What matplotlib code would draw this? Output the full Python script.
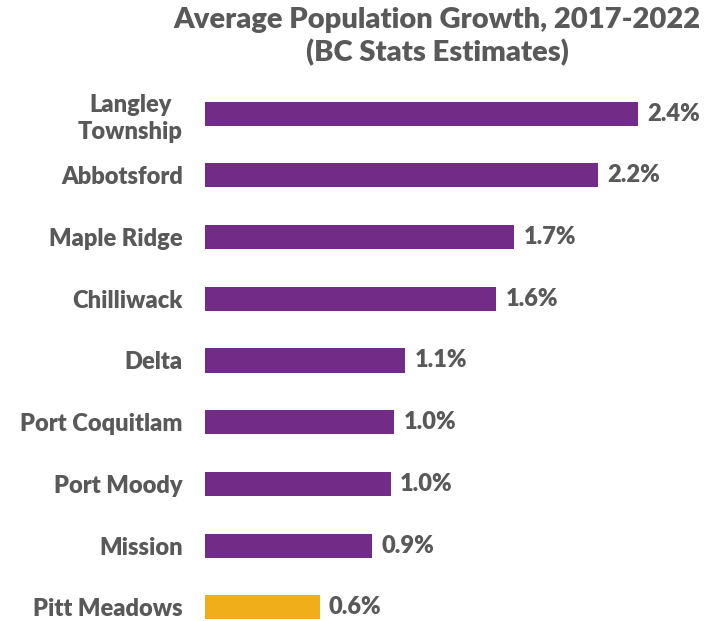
import numpy as np
import matplotlib
matplotlib.use("Agg")
from matplotlib import pyplot as plt

# average annual growth, 2017-2022 (percent)
cities = ["Langley\nTownship", "Abbotsford", "Maple Ridge", "Chilliwack", "Delta",
          "Port Coquitlam", "Port Moody", "Mission", "Pitt Meadows"]
growth = [2.38, 2.16, 1.70, 1.60, 1.10, 1.04, 1.02, 0.92, 0.63]
highlight = "Pitt Meadows"

PURPLE = "#722C88"
GOLD = "#F1AE1B"
GREY = "#595959"
WEIGHT = 'heavy'

plt.rcParams['font.family'] = ['Lato', 'DejaVu Sans']

fig = plt.figure(figsize=(7.13, 6.21), dpi=100)
ax = fig.add_axes([205 / 713, 0.0, 495 / 713, 1 - 82.7 / 621])

y = np.arange(len(cities))
colors = [GOLD if c == highlight else PURPLE for c in cities]
bars = ax.barh(y, growth, height=0.39, color=colors)

for b, v in zip(bars, growth):
    ax.text(b.get_width() + 0.05, b.get_y() + b.get_height() / 2, f"{v:.1f}%",
            va='center', ha='left', fontsize=17, color=GREY, fontweight=WEIGHT)

ax.set_yticks(y)
ax.set_yticklabels(cities, fontsize=17, color=GREY, fontweight=WEIGHT,
                   multialignment='center', linespacing=1.3)
ax.tick_params(axis='y', length=0, pad=16)
ax.set_xticks([])
ax.set_xlim(0, 495 / 182)
ax.set_ylim(8.22, -0.5)
for s in ax.spines.values():
    s.set_visible(False)

fig.text(437 / 713, 1 - 7 / 621, "Average Population Growth, 2017-2022\n(BC Stats Estimates)",
         ha='center', va='top', fontsize=21, color=GREY, fontweight=WEIGHT,
         linespacing=1.25)

fig.savefig("out.png", dpi=100)
